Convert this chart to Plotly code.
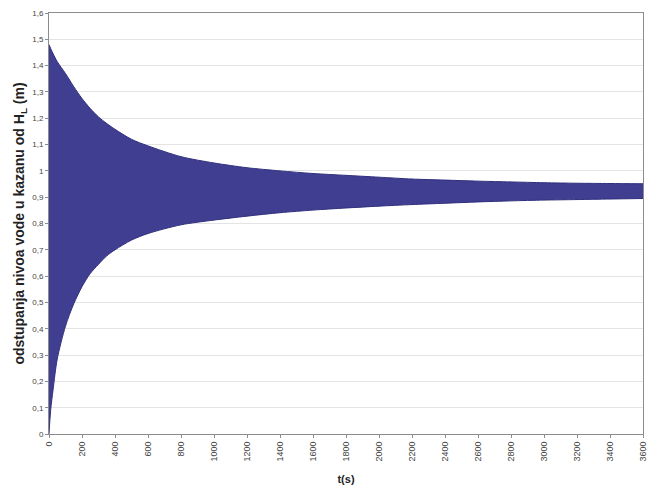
import plotly.graph_objects as go

# Time samples (s) and the upper / lower envelopes of the oscillating level deviation (m)
t_s = [0, 10, 25, 50, 100, 150, 200, 250, 300, 350, 400, 500, 600, 800, 1000,
       1200, 1400, 1600, 1800, 2000, 2200, 2400, 2600, 2800, 3000, 3200, 3400, 3600]
upper_m = [1.48, 1.465, 1.445, 1.415, 1.37, 1.32, 1.275, 1.237, 1.205, 1.18, 1.158, 1.12, 1.095, 1.054, 1.03,
           1.012, 1.0, 0.99, 0.983, 0.976, 0.969, 0.965, 0.961, 0.958, 0.955, 0.953, 0.952, 0.951]
lower_m = [0.0, 0.09, 0.17, 0.285, 0.41, 0.495, 0.56, 0.61, 0.645, 0.677, 0.70, 0.737, 0.762, 0.795, 0.813,
           0.828, 0.841, 0.851, 0.859, 0.866, 0.872, 0.877, 0.882, 0.886, 0.889, 0.891, 0.893, 0.895]

y_ticks = [i / 10 for i in range(0, 17)]
y_labels = ["0" if v == 0 else ("1" if v == 1 else f"{v:.1f}".replace(".", ",")) for v in y_ticks]
x_ticks = list(range(0, 3601, 200))

band_fill = "rgb(64,62,145)"
band_edge = "rgb(48,47,125)"

fig = go.Figure()
fig.add_trace(go.Scatter(x=t_s, y=lower_m, mode="lines",
                         line=dict(color=band_edge, width=1, shape="spline", smoothing=0.8),
                         showlegend=False, hoverinfo="skip"))
fig.add_trace(go.Scatter(x=t_s, y=upper_m, mode="lines", fill="tonexty", fillcolor=band_fill,
                         line=dict(color=band_edge, width=1, shape="spline", smoothing=0.8),
                         showlegend=False, hoverinfo="skip"))

fig.update_layout(
    width=661, height=488,
    margin=dict(l=49, r=18, t=13, b=54),
    paper_bgcolor="white", plot_bgcolor="white",
    font=dict(family="Arial, Liberation Sans, sans-serif", color="#333"),
    xaxis=dict(range=[0, 3600], tickvals=x_ticks, ticktext=[str(v) for v in x_ticks],
               tickangle=-90, tickfont=dict(size=9, color="#444"), automargin=False,
               showgrid=False, zeroline=False, showline=True, linecolor="#8c8c8c", linewidth=1,
               mirror=True, ticks="outside", ticklen=3, tickcolor="#8c8c8c",
               title=dict(text="<b>t(s)</b>", font=dict(size=11, color="#222"), standoff=14)),
    yaxis=dict(range=[0, 1.6], tickvals=y_ticks, ticktext=y_labels,
               tickfont=dict(size=8, color="#444"), automargin=False,
               showgrid=True, gridcolor="#e4e4e4", gridwidth=1, zeroline=False,
               showline=True, linecolor="#8c8c8c", linewidth=1, mirror=True,
               ticks="outside", ticklen=3, tickcolor="#8c8c8c",
               title=dict(text="<b>odstupanja nivoa vode u kazanu od H<sub>L</sub> (m)</b>",
                          font=dict(size=14, color="#222"), standoff=4)),
)

fig.write_html("out.html")
